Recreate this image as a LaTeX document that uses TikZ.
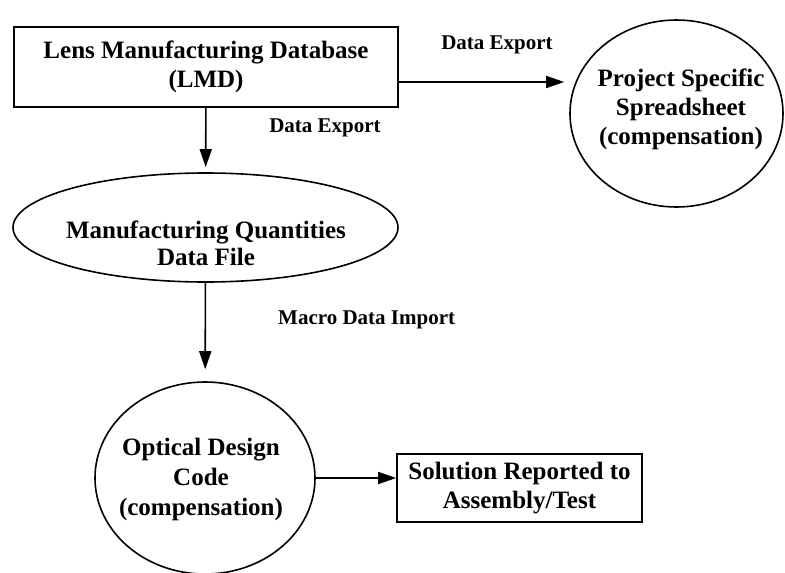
\documentclass[tikz,border=0pt]{standalone}
\usepackage{fontspec}
\setmainfont{Liberation Serif}
\usetikzlibrary{shapes.geometric,arrows.meta}
\begin{document}
\begin{tikzpicture}[x=1pt,y=-1pt,
  main/.style={font=\fontsize{25}{29}\selectfont\bfseries, align=center, inner sep=0pt},
  lbl/.style={font=\fontsize{21}{24}\selectfont\bfseries, inner sep=0pt},
  shp/.style={draw, line width=1.6pt, inner sep=0pt},
  arr/.style={line width=1.6pt, -{Triangle[length=18pt,width=12pt]}}]
\useasboundingbox (0,0) rectangle (785,573);
% shapes
\node[shp, main, rectangle, minimum width=384pt, minimum height=80pt] (lmd) at (206,67)
  {Lens Manufacturing Database\\(LMD)};
\node[shp, ellipse, minimum width=213pt, minimum height=187pt] (pss) at (676.5,113.5) {};
\node[main] (psst) at (681,109) {Project Specific\\Spreadsheet\\(compensation)};
\node[shp, ellipse, minimum width=385pt, minimum height=109pt] (mqdf) at (205.5,227.5) {};
\node[main, font=\fontsize{25}{27}\selectfont\bfseries] (mqdft) at (206,243) {Manufacturing Quantities\\Data File};
\node[shp, ellipse, minimum width=220pt, minimum height=192pt] (odc) at (205,478) {};
\node[main, font=\fontsize{25}{30}\selectfont\bfseries] (odct) at (201,479) {Optical Design\\Code\\(compensation)};
\node[shp, main, rectangle, minimum width=245pt, minimum height=68pt] (sol) at (519.5,488)
  {Solution Reported to\\Assembly/Test};
% labels
\node[lbl] (l1) at (497,45) {Data Export};
\node[lbl] (l2) at (325,128) {Data Export};
\node[lbl, anchor=west] (l3) at (278,320) {Macro Data Import};
% connectors
\draw[arr, shorten >=5pt] (lmd) -- (mqdf);
\draw[arr, shorten >=5pt] ([yshift=-15pt]lmd.east) -- ([yshift=-15pt]lmd.east -| pss.west);
\draw[arr, shorten >=12pt] (mqdf) -- (odc);
\draw[arr] (odc.east) -- (odc.east -| sol.west);
\end{tikzpicture}
\end{document}
